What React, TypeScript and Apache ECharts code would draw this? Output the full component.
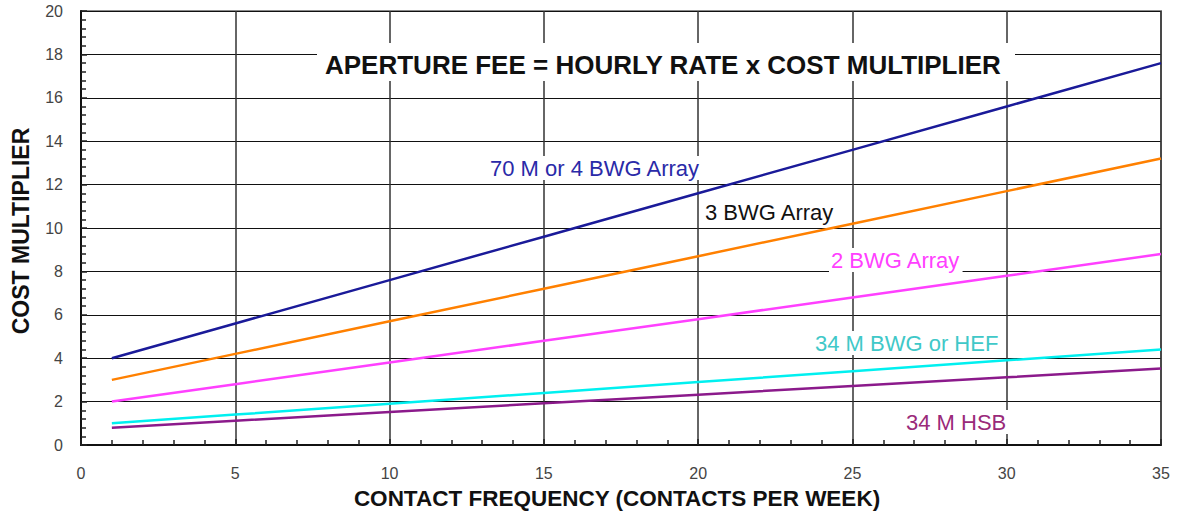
import React, { useEffect, useRef } from "react";
import * as echarts from "echarts";

const contactsPerWeek = [1, 5, 10, 15, 20, 25, 30, 35];
const array70m4bwg = [4.0, 5.6, 7.6, 9.6, 11.6, 13.6, 15.6, 17.6];
const array3bwg = [3.0, 4.2, 5.7, 7.2, 8.7, 10.2, 11.7, 13.2];
const array2bwg = [2.0, 2.8, 3.8, 4.8, 5.8, 6.8, 7.8, 8.8];
const bwg34hef = [1.0, 1.4, 1.9, 2.4, 2.9, 3.4, 3.9, 4.4];
const hsb34 = [0.8, 1.12, 1.52, 1.92, 2.32, 2.72, 3.12, 3.52];

const seriesNames = ["70 M or 4 BWG Array", "3 BWG Array", "2 BWG Array", "34 M BWG or HEF", "34 M HSB"];
const seriesColors = ["#1a1a99", "#ff8000", "#ff40ff", "#00f0f0", "#8b1a8b"];
const labelColors = ["#2a2aa8", "#111111", "#ff40ff", "#40c8c8", "#9a2a7a"];

const title = "APERTURE FEE = HOURLY RATE x COST MULTIPLIER";
const xName = "CONTACT FREQUENCY (CONTACTS PER WEEK)";
const yName = "COST MULTIPLIER";

export default function App() {
  const ref = useRef<HTMLDivElement>(null);
  useEffect(() => {
    if (!ref.current) return;
    const chart = echarts.init(ref.current, undefined, { renderer: "svg" });
    const all = [array70m4bwg, array3bwg, array2bwg, bwg34hef, hsb34];
    const font = "'Liberation Sans', Arial, sans-serif";
    const labelPos = [
      [488, 168],
      [703, 212],
      [829, 260],
      [813, 343],
      [904, 422],
    ];
    chart.setOption({
      animation: false,
      backgroundColor: "#ffffff",
      grid: {
        left: 81,
        right: 16,
        top: 11,
        bottom: 69,
        show: true,
        borderColor: "#8a8a8a",
        borderWidth: 2,
      },
      xAxis: {
        type: "value",
        min: 0,
        max: 35,
        interval: 5,
        axisLine: { show: true, onZero: false, lineStyle: { color: "#111", width: 2 } },
        axisTick: { show: true, inside: true, length: 6, lineStyle: { color: "#222", width: 1.5 } },
        minorTick: { show: true, splitNumber: 5, length: 5, lineStyle: { color: "#222", width: 1.5 } },
        axisLabel: { fontFamily: font, fontSize: 16, color: "#444", margin: 20 },
        splitLine: { show: true, lineStyle: { color: "#333", width: 1.5 } },
      },
      yAxis: {
        type: "value",
        min: 0,
        max: 20,
        interval: 2,
        axisLine: { show: true, lineStyle: { color: "#111", width: 2 } },
        axisTick: { show: true, inside: true, length: 6, lineStyle: { color: "#222", width: 1.5 } },
        minorTick: { show: true, splitNumber: 5, length: 5, lineStyle: { color: "#222", width: 1.5 } },
        axisLabel: { fontFamily: font, fontSize: 16, color: "#444", margin: 18 },
        splitLine: { show: true, lineStyle: { color: "#111", width: 1.2 } },
      },
      series: all.map((vals, i) => ({
        name: seriesNames[i],
        type: "line",
        data: contactsPerWeek.map((x, j) => [x, vals[j]]),
        showSymbol: false,
        symbol: "none",
        lineStyle: { color: seriesColors[i], width: 2.5 },
        z: 3,
      })),
      graphic: [
        {
          type: "rect",
          shape: { x: 317, y: 43, width: 698, height: 38 },
          style: { fill: "#ffffff" },
          z: 50,
        },
        {
          type: "text",
          x: 325,
          y: 65,
          style: {
            text: title,
            fill: "#111",
            font: `bold 26px ${font}`,
            verticalAlign: "middle",
          },
          z: 51,
        },
        {
          type: "text",
          x: 617,
          y: 498,
          style: {
            text: xName,
            fill: "#111",
            font: `bold 22.5px ${font}`,
            align: "center",
            verticalAlign: "middle",
          },
          z: 51,
        },
        {
          type: "text",
          x: 21,
          y: 231,
          rotation: Math.PI / 2,
          style: {
            text: yName,
            fill: "#111",
            font: `bold 23px ${font}`,
            align: "center",
            verticalAlign: "middle",
          },
          z: 51,
        },
        ...seriesNames.map((n, i) => ({
          type: "text",
          x: labelPos[i][0],
          y: labelPos[i][1],
          style: {
            text: n,
            fill: labelColors[i],
            font: `22px ${font}`,
            verticalAlign: "middle",
            backgroundColor: "#ffffff",
            padding: [1, 2, 1, 2],
          },
          z: 50,
        })),
      ],
    });
    return () => chart.dispose();
  }, []);
  return (
    <div
      ref={ref}
      style={{ position: "fixed", left: 0, top: 0, width: 1177, height: 514 }}
    />
  );
}
